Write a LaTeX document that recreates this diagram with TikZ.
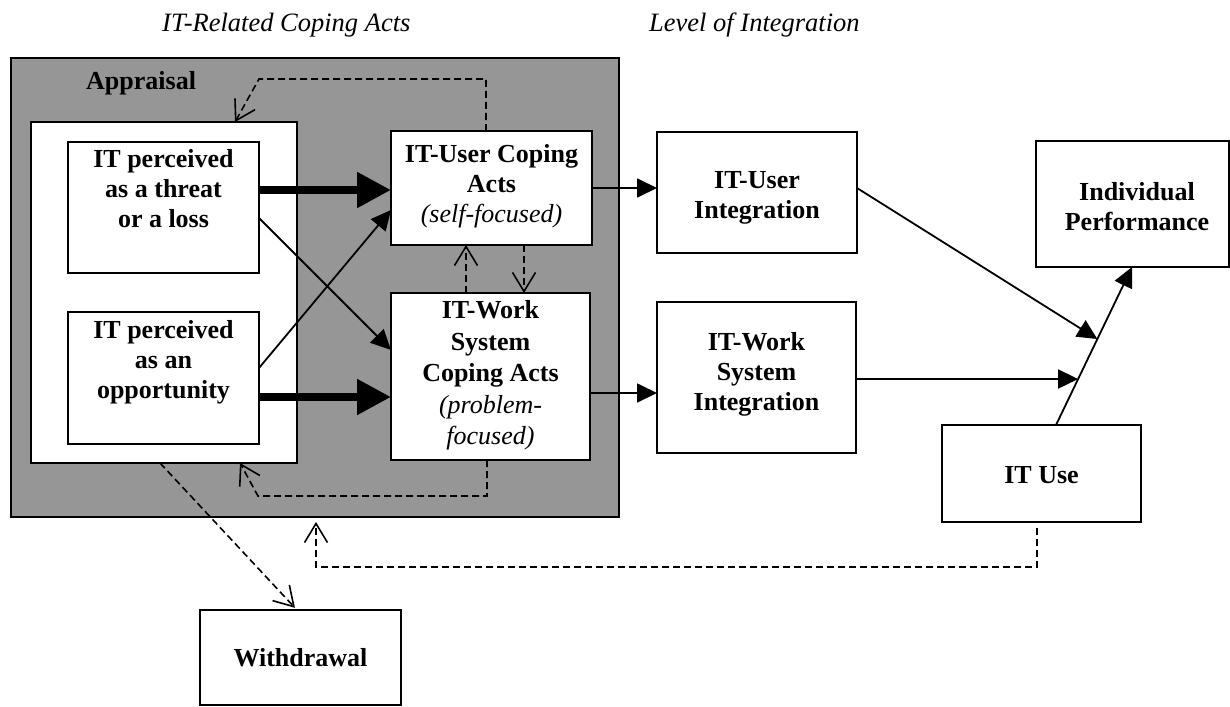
\documentclass[tikz,border=0pt]{standalone}
\usepackage{fontspec}
\setmainfont{Liberation Serif}
\usetikzlibrary{arrows.meta,calc}
\definecolor{panelgray}{RGB}{150,150,150}
\begin{document}
\begin{tikzpicture}[x=1pt,y=-1pt,
  box/.style={draw, line width=1.8pt, fill=white, inner sep=0pt, outer sep=0pt},
  txt/.style={align=center, font=\fontsize{26}{30}\selectfont\bfseries},
  link/.style={line width=1.8pt, -{Triangle[length=20pt,width=19pt]}},
  heavy/.style={line width=8pt, -{Triangle[length=34pt,width=34pt]}},
  fb/.style={line width=1.6pt, dash pattern=on 7pt off 4pt, -{Straight Barb[length=19pt,width=23pt]}},
  title/.style={font=\fontsize{26.5}{30}\selectfont\itshape, anchor=base west, inner sep=0pt}
]
\useasboundingbox (0,0) rectangle (1230,706);

% column headings
\node[title] (h1) at (162,32) {IT-Related Coping Acts};
\node[title] (h2) at (649,32) {Level of Integration};

% appraisal panel
\node[draw, line width=1.8pt, fill=panelgray, minimum width=608pt, minimum height=459pt, inner sep=0pt, outer sep=0pt] (appraisal) at (315,287.5) {};
\node[txt, anchor=base west, inner sep=0pt] (apptitle) at (86,90) {Appraisal};
\node[box, minimum width=266pt, minimum height=341pt] (white) at (164,292.5) {};

\node[box, minimum width=191pt, minimum height=131pt,
  label={[txt,yshift=18.5pt,name=threatT]center:IT perceived\\as a threat\\or a loss}] (threat) at (163.5,207.5) {};
\node[box, minimum width=191pt, minimum height=132pt,
  label={[txt,yshift=15.5pt,name=oppT]center:IT perceived\\as an\\opportunity}] (opp) at (163.5,378) {};

\node[box, minimum width=201pt, minimum height=114pt,
  label={[txt,yshift=1.5pt,name=ucopeT]center:IT-User Coping\\Acts\\{\mdseries\itshape (self-focused)}}] (ucope) at (491.5,188) {};
\node[box, minimum width=199pt, minimum height=167pt,
  label={[txt,yshift=1pt,name=wcopeT,font=\fontsize{26}{31.5}\selectfont\bfseries]center:IT-Work\\System\\Coping Acts\\{\mdseries\itshape (problem-}\\{\mdseries\itshape focused)}}] (wcope) at (490.5,376.5) {};

% integration level
\node[box, minimum width=200pt, minimum height=121pt,
  label={[txt,yshift=-5pt,name=uintT]center:IT-User\\Integration}] (uint) at (757,192.5) {};
\node[box, minimum width=199pt, minimum height=151pt,
  label={[txt,yshift=3.5pt,name=wintT]center:IT-Work\\System\\Integration}] (wint) at (756.5,377.5) {};

\node[box, minimum width=193pt, minimum height=126pt,
  label={[txt,xshift=4.5pt,yshift=-3pt,name=perfT]center:Individual\\Performance}] (perf) at (1132.5,204) {};
\node[box, minimum width=199pt, minimum height=97pt,
  label={[txt,yshift=-1.5pt,name=ituseT]center:IT Use}] (ituse) at (1041.5,473.5) {};
\node[box, minimum width=201pt, minimum height=95pt,
  label={[txt,name=withT]center:Withdrawal}] (withdrawal) at (300.5,657.5) {};

% appraisal to coping acts
\draw[heavy] ([yshift=17.5pt]threat.east) -- ([yshift=-2pt]ucope.west);
\draw[heavy] ([yshift=-19pt]opp.east) -- ([yshift=-20.5pt]wcope.west);
\draw[link] ([yshift=-10.5pt]threat.east) -- ([yshift=26.5pt]wcope.west);
\draw[link] ([yshift=10pt]opp.east) -- ([yshift=-22pt]ucope.west);

% coping acts to integration
\draw[link] (ucope.east) -- ([yshift=4.5pt]uint.west);
\draw[link] ([yshift=-16.5pt]wcope.east) -- ([yshift=-15.5pt]wint.west);

% IT use moderates integration -> performance
\coordinate (useTop) at ([xshift=14.5pt]ituse.north);
\coordinate (perfBot) at ([xshift=-0.5pt]perf.south);
\draw[link] (useTop) -- (perfBot);
\draw[link] ([yshift=4.5pt]uint.east) -- ($(useTop)!0.544!(perfBot)$);
\draw[link] ([yshift=-1.5pt]wint.east) -- ($(useTop)!0.291!(perfBot)$);

% feedback loops
\coordinate (topBend) at (259,79);
\coordinate (botBend) at (258,496);
\coordinate (useBend) at (316,567);
\draw[fb] ([xshift=-5.5pt]ucope.north) |- (topBend) -- ([xshift=71pt]white.north);
\draw[fb] ([xshift=-3.5pt]wcope.south) |- (botBend) -- ([xshift=76pt]white.south);
\draw[fb] ([xshift=-24.5pt]wcope.north) -- ([xshift=-25.5pt]ucope.south);
\draw[fb] ([xshift=32.5pt]ucope.south) -- ([xshift=33.5pt]wcope.north);
\draw[fb, shorten >=3pt] ([xshift=-4pt]white.south) -- ([xshift=-3.5pt]withdrawal.north);
\draw[fb, shorten <=6pt, shorten >=5pt] ([xshift=-4.5pt]ituse.south) |- (useBend) -- ([xshift=1pt]appraisal.south);
\end{tikzpicture}
\end{document}
